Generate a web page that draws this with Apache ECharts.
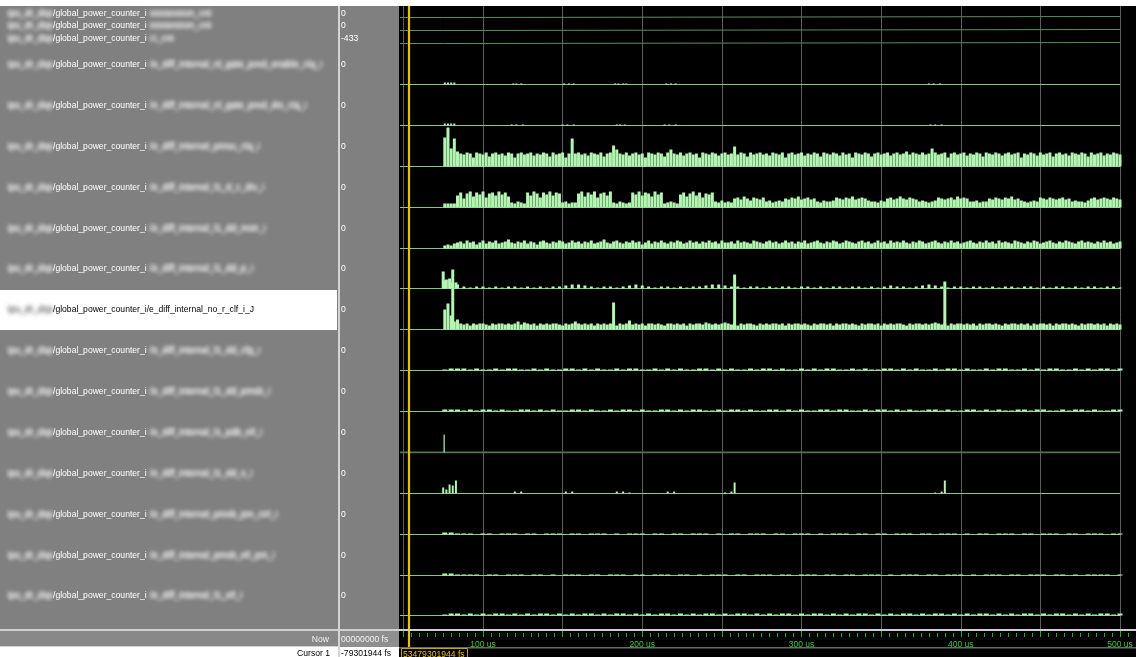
<!DOCTYPE html>
<html><head><meta charset="utf-8">
<script src="https://cdn.jsdelivr.net/npm/echarts@6/dist/echarts.min.js"></script>
<style>html,body{margin:0;padding:0;background:#000;overflow:hidden}#c{width:1136px;height:657px}</style>
</head><body><div id="c"></div>
<script>
// ---------------- DATA ----------------
const tickLabelsUs = [100, 200, 300, 400, 500];
const cursorTimeUs = 53.479301944;
const nowText = '00000000 fs';
const cursorValueText = '-79301944 fs';
const cursorBoxText = '53479301944 fs';

const namePrefixBlur = 'ipu_dr_dsp';
const nameVisible = [
  '/global_power_counter_i','/global_power_counter_i','/global_power_counter_i',
  '/global_power_counter_i','/global_power_counter_i','/global_power_counter_i',
  '/global_power_counter_i','/global_power_counter_i','/global_power_counter_i',
  '/global_power_counter_i/e_diff_internal_no_r_clf_i_J',
  '/global_power_counter_i','/global_power_counter_i','/global_power_counter_i',
  '/global_power_counter_i','/global_power_counter_i','/global_power_counter_i',
  '/global_power_counter_i'];
const nameSuffixBlur = [
  'ssssession_cnt','ssssession_cnt','ci_cnt',
  '/e_diff_internal_nl_gate_pred_enable_clq_i','/e_diff_internal_nl_gate_pred_dis_clq_i',
  '/e_diff_internal_pmsu_clq_i','/e_diff_internal_l1_d_c_div_i','/e_diff_internal_l1_dd_mstr_i',
  '/e_diff_internal_l1_dd_p_i','','/e_diff_internal_l1_dd_cfg_i','/e_diff_internal_l1_dd_pmsb_i',
  '/e_diff_internal_l1_pdb_ell_i','/e_diff_internal_l1_dd_s_i','/e_diff_internal_pmsb_pm_ctrl_i',
  '/e_diff_internal_pmsb_ell_pm_i','/e_diff_internal_l1_ell_i'];
const valueText = ['0','0','-433','0','0','0','0','0','0','0','0','0','0','0','0','0','0'];

// top three counters: [time us, level]
const r1Line = [[47.9,0],[75.2,0],[75.2,1],[500,1]];
const r2Line = [[47.9,0],[75.2,0],[75.2,1],[500,1]];
const r3Line = [[47.9,0],[75.2,0],[75.2,1],[500,1]];

// sparse rows: [time us, height]
const r4Blips = [[76,2],[78,2],[80,2],[82,2],[119,1],[121,1],[124,1],[151,1],[154,1],[157,1],[183,1],[185,1],[188,1],[190,1],[215,1],[218,1],[221,1],[380,1],[383,1],[387,1]];
const r5Blips = [[76,2],[78,2],[80,2],[82,2],[118,1],[121,1],[125,1],[150,1],[153,1],[157,1],[184,1],[186,1],[189,1],[214,1],[217,1],[221,1],[381,1],[384,1],[388,1]];
const r13Blips = [[75.6,18]];
const r14Blips = [[75,6],[77,4],[79,9],[81,8],[83,13],[120,2],[124,2],[152,2],[156,2],[184,2],[188,2],[192,1],[216,2],[220,2],[252,1],[256,2],[258,11],[384,1],[388,2],[390,13]];

// dense rows sampled every 2 us from 76 us
const r6 = [
29,39,18,28,15,13,12,14,13,9,14,13,12,14,10,13,14,12,13,11,
14,13,9,13,14,12,13,14,11,13,12,14,13,10,14,12,13,14,9,13,
28,13,14,12,13,11,14,13,12,14,10,13,14,21,17,13,12,14,11,13,
14,12,13,9,14,13,12,14,13,10,14,17,13,12,14,11,13,14,12,13,
9,14,13,12,14,13,11,13,14,12,13,20,12,14,13,10,14,12,13,14,
12,13,11,14,13,12,14,9,13,14,12,13,14,11,13,12,14,13,10,14,
13,12,14,13,11,14,12,13,9,14,13,12,14,13,10,13,14,12,13,14,
11,13,14,12,13,15,12,14,13,12,14,12,13,18,14,12,13,14,9,13,
14,12,13,14,11,13,12,14,13,10,14,13,12,14,13,11,13,14,12,13,
14,9,13,12,14,13,11,14,12,13,14,10,13,14,12,13,11,14,13,12,
14,13,10,14,12,13,14,11,13,12,14,13,12];
const r7 = [
4,4,4,4,
12,15,9,14,16,11,15,13,16,10,14,15,12,16,13,15,11,
5,4,6,5,4,
15,12,16,14,10,15,13,16,12,15,14,
5,6,4,5,5,
14,16,11,15,13,16,10,14,15,12,16,
5,4,6,5,4,5,
15,13,16,12,15,14,11,16,13,15,
4,5,6,5,4,
13,15,11,14,16,12,15,10,14,13,15,
6,5,7,5,6,5,
9,10,8,11,9,7,10,9,8,10, 6,7,5,6,7,6,
9,8,10,9,11,8,9,10,8,9, 6,5,7,6,6,7,
10,9,8,10,9,11,8,9,10,9, 7,6,6,5,7,6,
9,10,8,9,11,9,8,10,9,8, 6,7,6,5,6,7,
10,9,8,9,10,8,11,9,10,9, 6,6,7,5,6,6,
9,8,10,9,8,10,9,11,8,9, 7,6,5,6,7,6,
10,9,8,10,9,8,9,10,8,9, 6,7,6,6,5,7,
9,10,8,9,10,9,8,10,9,8];
const r8 = [
3,4,3,5,
6,7,5,8,6,7,4,6,8,5,7,6,8,5,6,7,9,6,5,7,
6,8,5,7,6,4,7,8,6,5,7,6,8,7,5,6,8,6,7,5,
7,6,8,5,6,7,9,6,5,7,8,6,5,7,6,8,6,7,4,6,
8,5,7,6,8,6,5,7,6,8,7,5,6,8,6,7,5,7,6,8,
6,7,5,8,6,6,7,5,8,6,7,6,5,8,7,6,5,7,8,6,
7,5,6,8,6,7,5,7,6,8,5,6,7,8,6,5,7,6,8,7,
5,6,8,7,6,5,7,8,6,7,5,6,8,6,7,5,8,6,7,6,
8,6,5,7,6,8,7,5,6,7,8,6,5,7,6,8,6,7,5,6,
7,8,6,5,7,6,8,6,7,5,8,6,7,6,5,8,7,6,5,7,
6,8,7,5,6,7,8,6,5,7,6,8,7,6,5,7,8,6,7,6,
5,7,6,8,6,7,5,6,7];
const r10 = [
20,26,14,8,10,
6,5,6,4,6,5,6,6,5,4,6,5,6,6,5,6,5,6,8,5,
7,6,5,6,4,6,5,6,5,6,6,5,4,6,5,6,8,6,5,6,
5,6,4,6,5,6,5,6,6,4,6,5,6,9,5,6,5,6,4,6,
6,5,6,5,4,6,6,5,6,5,6,4,6,5,6,6,5,7,6,5,
6,5,6,7,6,5,6,4,6,5,6,6,5,4,6,5,6,5,6,6,
5,6,4,6,5,6,6,5,6,5,4,6,5,6,6,5,6,4,6,5,
6,6,5,6,5,4,6,5,6,6,5,6,4,6,5,6,5,6,6,5,
4,6,5,6,6,5,6,5,6,7,6,5,6,4,6,5,6,6,5,6,
5,6,4,6,5,6,6,5,6,5,4,6,5,6,6,5,6,5,6,4,
6,5,6,6,5,6,4,6,5,6,6,5,6,5,4,6,5,6,6,5,
6,5,6,4,6,5,6,5];
const r10Spikes = [[81,41],[182,27],[258,41],[390,41]];

// low-activity rows sampled every 4 us from 76 us
const r9 = [
8,6,4,
2,1,2,2,1,2,1,2,2,1,2,1,2,1,2,2,3,4,4,3,
2,1,2,2,1,2,3,4,3,2,1,2,2,1,2,1,2,2,3,4,
4,3,2,2,1,2,2,1,2,1,2,2,1,2,2,1,2,1,2,2,
1,2,2,1,2,1,2,3,2,2,1,2,3,4,3,2,1,2,2,1,
2,2,1,2,1,2,2,1,2,2,1,2,1,2,2,1,2,1,2,2,
1,2,2,1];
const r9Spikes = [[75,17],[77,9],[79,10],[81,19],[83,6],[258,14],[390,7]];
const r11 = [
1,2,2,2,
1,2,1,1,2,1,2,2,1,1,2,1,2,1,1,2,2,1,2,1,
2,1,1,2,1,2,2,1,1,2,1,2,1,2,1,1,2,2,1,2,
1,2,1,1,2,1,2,2,1,2,1,1,2,1,2,1,2,2,1,1,
2,1,2,1,1,2,2,1,2,1,2,1,1,2,1,2,2,1,2,1,
1,2,1,2,2,1,1,2,1,2,1,2,2,1,1,2,1,2,1,2,
2,1,2];
const r12 = [
2,2,2,1,
2,1,2,2,1,2,1,1,2,2,1,2,1,2,1,1,2,2,1,2,
1,1,2,1,2,2,1,2,1,1,2,2,1,2,1,2,2,1,1,2,
1,2,2,1,2,1,1,2,2,1,2,1,2,1,1,2,2,1,2,2,
1,1,2,1,2,2,1,2,1,2,1,1,2,2,1,2,1,1,2,2,
1,2,1,2,1,1,2,2,1,2,2,1,1,2,1,2,2,1,2,1,
1,2,2];
const r15 = [
2,2,1,1,
1,0,1,1,0,1,1,1,0,1,1,0,1,1,1,0,1,1,0,1,
1,1,0,1,0,1,1,1,0,1,1,0,1,1,0,1,1,1,0,1,
0,1,1,0,1,1,1,0,1,1,0,1,1,1,0,1,0,1,1,1,
0,1,1,0,1,1,0,1,1,1,0,1,1,0,1,1,1,0,1,0,
1,1,0,1,1,1,0,1,1,0,1,1,1,0,1,1,0,1,1,1,
0,1,1];
const r16 = [
2,2,1,1,
1,1,0,1,1,0,1,1,1,0,1,1,0,1,0,1,1,1,0,1,
1,0,1,1,1,0,1,1,0,1,1,1,0,1,1,0,1,0,1,1,
1,0,1,1,0,1,1,1,0,1,1,0,1,1,1,0,1,1,0,1,
1,0,1,1,1,0,1,0,1,1,1,0,1,1,0,1,1,1,0,1,
0,1,1,1,0,1,1,0,1,1,1,0,1,1,0,1,0,1,1,1,
1,0,1];
const r17 = [
1,2,2,1,
2,1,2,1,2,2,1,2,1,2,1,2,2,1,2,1,2,1,2,2,
1,2,1,2,2,1,2,1,2,1,2,2,1,2,1,2,1,2,2,1,
2,1,2,2,1,2,1,2,1,2,2,1,2,1,2,2,1,2,1,2,
1,2,2,1,2,1,2,1,2,2,1,2,1,2,2,1,2,1,2,1,
2,2,1,2,1,2,1,2,2,1,2,1,2,2,1,2,1,2,1,2,
2,1,2];

// ---------------- LAYOUT ----------------
const X0 = 323.75, PX = 1.5925, TMAX = 550, GW = TMAX * PX;
const FONT = '8.6px "Liberation Sans", Arial, sans-serif';
const topBase = [17.5, 30.5, 43.5];
const rowBase = [84.5,125.5,166.5,207.5,248.5,288.5,329.5,370.5,411.5,452.5,493.5,534.5,575.5,615.5];
const GREEN = '#b2f6b2', BASE = '#86c886', TOPLINE = '#5e8e5e';

const grids = [], xAxes = [], yAxes = [], series = [];
function addGrid(top, height, ymax, xExtra) {
  grids.push({left: X0, width: GW, top: top, height: height, containLabel: false, outerBoundsMode: 'none'});
  const i = grids.length - 1;
  xAxes.push(Object.assign({gridIndex: i, type: 'value', min: 0, max: TMAX, interval: 50, show: false}, xExtra || {}));
  yAxes.push({gridIndex: i, type: 'value', min: 0, max: ymax, show: false});
  return i;
}
function sampled(arr, t0, dt) { return arr.map((h, k) => [t0 + dt * k, h]); }
function bars(gi, data, w, color, z) {
  series.push({type: 'bar', xAxisIndex: gi, yAxisIndex: gi, data: data, barWidth: w, clip: false, silent: true,
    itemStyle: {color: color || GREEN}, z: z || 3, animation: false});
}
function line(gi, data, color, width, z) {
  series.push({type: 'line', xAxisIndex: gi, yAxisIndex: gi, data: data, showSymbol: false, symbol: 'none', silent: true,
    lineStyle: {color: color, width: width || 1}, z: z || 4, animation: false});
}

// vertical grid lines
const gGrid = addGrid(6, 623, 1, {show: true, axisLine: {show: false}, axisTick: {show: false}, axisLabel: {show: false},
  splitLine: {show: true, lineStyle: {color: '#5e5e5e', width: 1}}});
line(gGrid, [], '#000', 1, 1);

// top three rows
[r1Line, r2Line, r3Line].forEach((d, i) => { const g = addGrid(topBase[i] - 12, 12, 12); line(g, d, TOPLINE, 1); });

// rows 4..17
const zero = [[47.9, 0], [500, 0]];
const rowSpecs = [
  {bars: [r4Blips], w: 2},
  {bars: [r5Blips], w: 2},
  {bars: [sampled(r6, 76, 2)], w: 3},
  {bars: [sampled(r7, 76, 2)], w: 3},
  {bars: [sampled(r8, 76, 2)], w: 3},
  {bars: [sampled(r9, 76, 4), r9Spikes], w: 3},
  {bars: [sampled(r10, 76, 2), r10Spikes], w: 3},
  {bars: [sampled(r11, 76, 4)], w: 5},
  {bars: [sampled(r12, 76, 4)], w: 5},
  {bars: [r13Blips], w: 1.2, base: '#4e784e', bw: 2},
  {bars: [r14Blips], w: 2},
  {bars: [sampled(r15, 76, 4)], w: 5},
  {bars: [sampled(r16, 76, 4)], w: 5},
  {bars: [sampled(r17, 76, 4)], w: 5}
];
rowSpecs.forEach((s, j) => {
  const g = addGrid(rowBase[j] - 38, 38, 38);
  line(g, zero, s.base || BASE, s.bw || 1, 2);
  const all = [].concat.apply([], s.bars);
  bars(g, all, s.w, GREEN, 3);
});

// time axis (ticks + labels)
const gTime = addGrid(631, 6, 1, {show: true, position: 'bottom',
  axisLine: {show: false},
  axisTick: {show: true, inside: true, length: 6, lineStyle: {color: '#1fae1f'}},
  minorTick: {show: true, splitNumber: 10, length: 4, lineStyle: {color: '#1fae1f'}},
  axisLabel: {show: true, margin: 3, color: '#3ccc3c', fontSize: 8.5, fontFamily: 'Liberation Sans',
    formatter: v => tickLabelsUs.indexOf(v) >= 0 ? v + ' us' : ''},
  splitLine: {show: false}});
line(gTime, [], '#000', 1, 1);

// cursor
const gCur = addGrid(6, 641, 1);
series.push({type: 'line', xAxisIndex: gCur, yAxisIndex: gCur, data: [[cursorTimeUs, 0]], showSymbol: false, symbol: 'none',
  silent: true, lineStyle: {width: 0}, z: 20, animation: false,
  markLine: {symbol: 'none', silent: true, animation: false, label: {show: false},
    lineStyle: {color: '#e9c200', width: 2.2, type: 'solid'}, data: [{xAxis: cursorTimeUs}]}});

// ---------------- PANELS (graphic) ----------------
const G = [];
function rect(x, y, w, h, fill, z, stroke) { G.push({type: 'rect', z: z || 100, silent: true, shape: {x, y, width: w, height: h},
  style: stroke ? {fill: fill, stroke: stroke, lineWidth: 1} : {fill: fill}}); }
function txt(t, x, y, fill, align, z) { G.push({type: 'text', z: z || 102, silent: true,
  style: {text: t, x: x, y: y, fill: fill, font: FONT, align: align || 'left', verticalAlign: 'middle'}}); }
function blur(t, x, y, col) {
  for (let p = 0; p < 2; p++) G.push({type: 'text', z: 101, silent: true,
    style: {text: t, x: x - 3000, y: y, fill: '#000', font: '9px "Liberation Sans", Arial, sans-serif', verticalAlign: 'middle',
      textShadowColor: col, textShadowBlur: 4, textShadowOffsetX: 3000, textShadowOffsetY: 0}});
}

rect(0, 0, 1136, 6, '#ffffff');
rect(0, 6, 338, 623, '#808080');
rect(0, 290, 337, 40, '#ffffff');
rect(338, 6, 2, 651, '#d4d4d4');
rect(340, 6, 59, 623, '#808080');
rect(0, 629, 1136, 2, '#cfcfcf', 99);
rect(0, 631, 338, 16, '#888888');
rect(340, 631, 59, 16, '#8e8e8e');
rect(0, 647, 338, 10, '#ffffff');
rect(340, 647, 59, 10, '#ffffff');
rect(0, 646, 338, 1, '#d0d0d0');
rect(399, 647, 737, 1.5, '#6a6a6a', 99);

const labelY = [13.3, 25.5, 38.5].concat(rowBase.map(b => b - 19.5));
labelY.forEach((y, i) => {
  const hl = (i === 9);
  blur(namePrefixBlur, 8, y, hl ? '#7a7a7a' : '#ffffff');
  txt(nameVisible[i], 53, y, hl ? '#000000' : '#ffffff');
  if (nameSuffixBlur[i]) blur(nameSuffixBlur[i], 150, y, '#ffffff');
  txt(valueText[i], 341, y, '#ffffff');
});
txt('Now', 329, 639.5, '#eeeeee', 'right');
txt(nowText, 341, 639.5, '#f2f2f2');
txt('Cursor 1', 330, 653.5, '#000000', 'right');
txt(cursorValueText, 341, 653.5, '#000000');
rect(401.5, 648.5, 66, 12, '#000000', 103, '#c9a400');
txt(cursorBoxText, 403, 654.5, '#e6c000', 'left', 104);

const chart = echarts.init(document.getElementById('c'), null, {renderer: 'canvas'});
chart.setOption({
  backgroundColor: '#000000',
  animation: false,
  grid: grids, xAxis: xAxes, yAxis: yAxes, series: series,
  graphic: {elements: G}
});
</script></body></html>
